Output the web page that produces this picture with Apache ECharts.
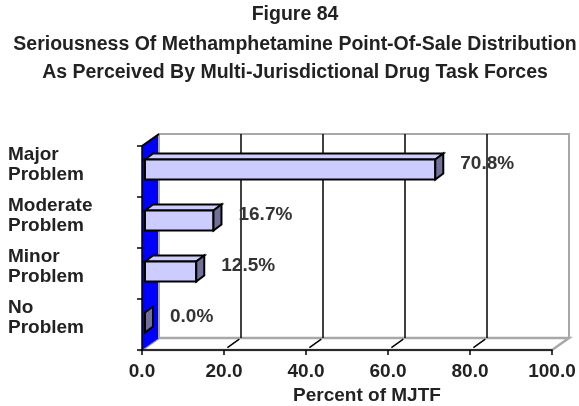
<!DOCTYPE html>
<html>
<head>
<meta charset="utf-8">
<script src="https://cdn.jsdelivr.net/npm/echarts@6/dist/echarts.min.js"></script>
<style>html,body{margin:0;padding:0;background:#fff}#c{width:579px;height:406px}</style>
</head>
<body>
<div id="c"></div>
<script>
// ---- data ----
const titleLines = ['Figure 84',
  'Seriousness Of Methamphetamine Point-Of-Sale Distribution',
  'As Perceived By Multi-Jurisdictional Drug Task Forces'];
const categories = ['Major\nProblem', 'Moderate\nProblem', 'Minor\nProblem', 'No\nProblem'];
const values = [70.8, 16.7, 12.5, 0.0];
const xTicks = [0, 20, 40, 60, 80, 100];
const xAxisName = 'Percent of MJTF';

// ---- style ----
const FONT = '"Liberation Sans", Arial, sans-serif';
const TXT = '#222';
const DX = 17, DY = -12;          // back wall depth offset
const BDX = 8, BDY = -6;          // bar depth
const BX = 3, BY = -2;            // bar front face shift
const BAR_H = 20;

const chart = echarts.init(document.getElementById('c'), null, {renderer: 'canvas'});

function frameItem(params, api) {
  const cs = params.coordSys;
  const x0 = cs.x, x1 = cs.x + cs.width, y0 = cs.y, y1 = cs.y + cs.height;
  const ch = [];
  ch.push({type: 'rect', shape: {x: x0 + DX, y: y0 + DY, width: cs.width, height: cs.height},
    style: {fill: '#fff', stroke: '#a8a8a8', lineWidth: 2}});
  ch.push({type: 'polygon', shape: {points: [[x0, y1], [x1, y1], [x1 + DX, y1 + DY], [x0 + DX, y1 + DY]]},
    style: {fill: '#fff', stroke: '#a8a8a8', lineWidth: 2.5}});
  xTicks.forEach(function (t) {
    if (t === xTicks[0] || t === xTicks[xTicks.length - 1]) return;
    const px = api.coord([t, 0])[0];
    ch.push({type: 'line', shape: {x1: px + DX, y1: y0 + DY, x2: px + DX, y2: y1 + DY},
      style: {stroke: '#000', lineWidth: 1.5}});
    ch.push({type: 'line', shape: {x1: px + DX * 0.2, y1: y1 + DY * 0.2, x2: px + DX * 0.9, y2: y1 + DY * 0.9},
      style: {stroke: '#000', lineWidth: 1.5}});
  });
  ch.push({type: 'polygon', shape: {points: [[x0, y0], [x0 + DX, y0 + DY], [x0 + DX, y1 + DY], [x0, y1]]},
    style: {fill: '#0000ff', stroke: null}});
  ch.push({type: 'line', shape: {x1: x0 + DX, y1: y0 + DY, x2: x0 + DX, y2: y1 + DY},
    style: {stroke: '#a8a8a8', lineWidth: 2}});
  ch.push({type: 'line', shape: {x1: x0, y1: y0, x2: x0 + DX, y2: y0 + DY},
    style: {stroke: '#000', lineWidth: 2}});
  return {type: 'group', children: ch};
}

function barItem(params, api) {
  const v = api.value(0), c = api.value(1);
  const p0 = api.coord([0, c]);
  const p1 = api.coord([v, c]);
  const xa = p0[0] + BX, xb = p1[0] + BX;
  const yc = p0[1] + BY;
  const yt = yc - BAR_H / 2, yb = yc + BAR_H / 2;
  const stroke = {stroke: '#000', lineWidth: 2, lineJoin: 'miter'};
  const ch = [];
  if (xb > xa) {
    ch.push({type: 'polygon', shape: {points: [[xa, yt], [xb, yt], [xb + BDX, yt + BDY], [xa + BDX, yt + BDY]]},
      style: Object.assign({fill: '#ccccff'}, stroke)});
    ch.push({type: 'rect', shape: {x: xa, y: yt, width: xb - xa, height: BAR_H},
      style: Object.assign({fill: '#ccccff'}, stroke)});
  }
  ch.push({type: 'polygon', shape: {points: [[xb, yt], [xb + BDX, yt + BDY], [xb + BDX, yb + BDY], [xb, yb]]},
    style: Object.assign({fill: '#707098'}, stroke)});
  ch.push({type: 'text', style: {text: v.toFixed(1) + '%', x: p1[0] + 28, y: p0[1] - 7.5,
    fill: '#333', font: 'bold 19px ' + FONT, textAlign: 'left', textVerticalAlign: 'middle'}});
  return {type: 'group', children: ch};
}

const titleTops = [4, 34, 62];
chart.setOption({
  animation: false,
  backgroundColor: '#fff',
  title: titleLines.map(function (t, i) {
    return {text: t, left: 295, textAlign: 'center', top: titleTops[i], padding: 0,
      textStyle: {fontFamily: FONT, fontWeight: 'bold', fontSize: 19.5, color: TXT, lineHeight: 22}};
  }),
  grid: {left: 142, right: 27, top: 146, bottom: 56, containLabel: false, outerBoundsMode: 'none'},
  xAxis: {
    type: 'value', min: 0, max: 100, interval: 20, z: 10,
    axisLine: {show: true, lineStyle: {color: '#000', width: 1.5}},
    axisTick: {show: true, length: 5, lineStyle: {color: '#000', width: 1.5}},
    splitLine: {show: false},
    axisLabel: {formatter: function (v) { return v.toFixed(1); }, margin: 12,
      fontFamily: FONT, fontWeight: 'bold', fontSize: 19, color: TXT},
    name: xAxisName, nameLocation: 'middle', nameGap: 36, nameMoveOverlap: false,
    nameTextStyle: {fontFamily: FONT, fontWeight: 'bold', fontSize: 19, color: TXT, padding: [0, 0, 0, 40]}
  },
  yAxis: {
    type: 'category', data: categories, inverse: true, z: 10,
    axisLine: {show: true, lineStyle: {color: '#000', width: 1.5}},
    axisTick: {show: true, length: 5, lineStyle: {color: '#000', width: 1.5}},
    splitLine: {show: false},
    axisLabel: {interval: 0, align: 'left', margin: 134, lineHeight: 20,
      formatter: function (v) { return v + '\n{s| }'; },
      rich: {s: {lineHeight: 13, fontSize: 10}},
      fontFamily: FONT, fontWeight: 'bold', fontSize: 19, color: TXT}
  },
  series: [
    {type: 'custom', name: 'frame', renderItem: frameItem, data: [[0, 0]], z: 1, silent: true, clip: false},
    {type: 'custom', name: 'Percent of MJTF', renderItem: barItem, z: 3, clip: false,
      data: values.map(function (v, i) { return [v, i]; })}
  ]
});
</script>
</body>
</html>
